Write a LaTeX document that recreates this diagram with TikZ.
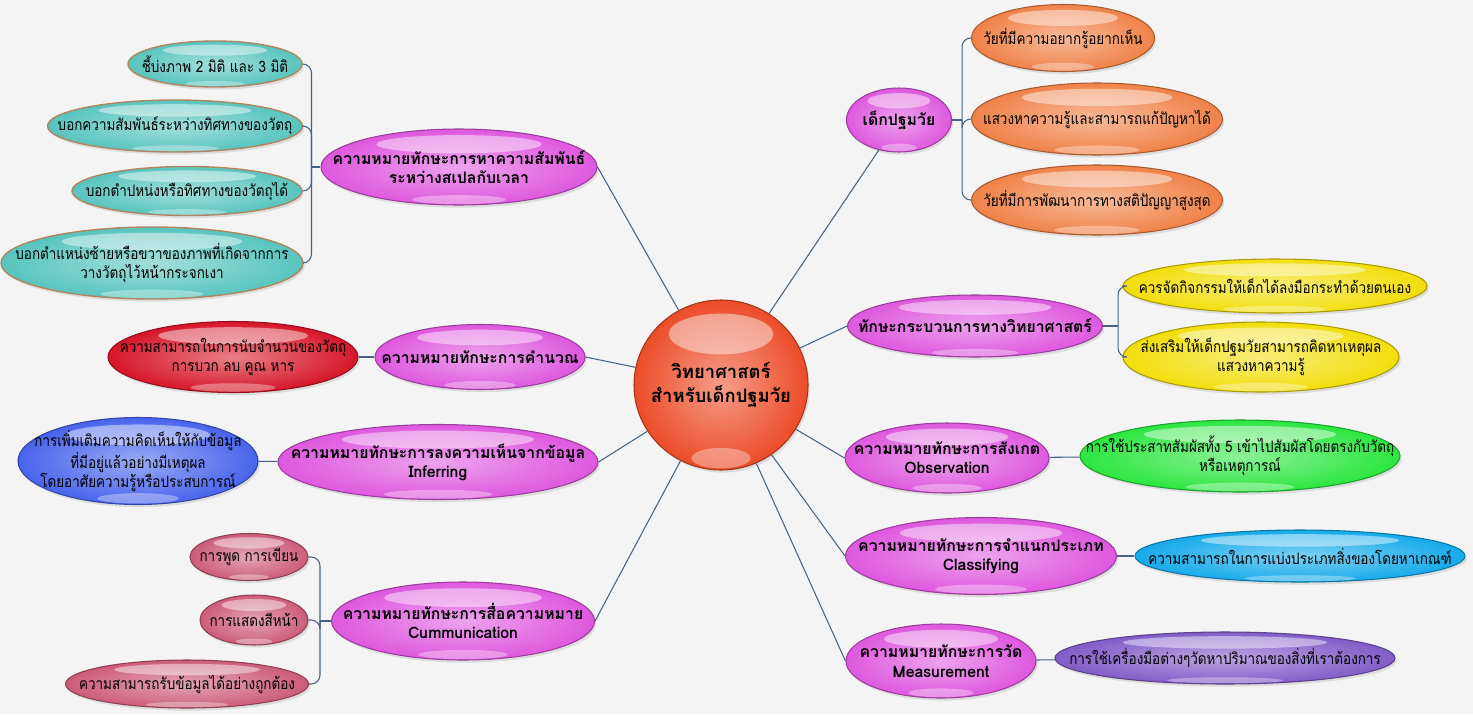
\documentclass[tikz,border=0pt]{standalone}
\usepackage{fontspec}
\setmainfont{Loma}[Script=Thai]
\newfontfamily\leaffont{Loma}[Script=Thai, FakeStretch=0.85]
\usetikzlibrary{shapes.geometric, shadows, calc}

\definecolor{bgcol}{RGB}{244,244,244}
\definecolor{linkcol}{RGB}{70,100,130}
\definecolor{skillpink}{RGB}{222,88,222}
\definecolor{coreorange}{RGB}{236,76,40}
\definecolor{leaforange}{RGB}{240,130,72}
\definecolor{leafteal}{RGB}{88,196,190}
\definecolor{tealrim}{RGB}{176,134,96}
\definecolor{leafred}{RGB}{214,22,40}
\definecolor{leafblue}{RGB}{72,100,236}
\definecolor{leafrose}{RGB}{204,92,122}
\definecolor{leafyellow}{RGB}{242,222,12}
\definecolor{leafgreen}{RGB}{44,230,64}
\definecolor{leafcyan}{RGB}{22,170,234}
\definecolor{leafviolet}{RGB}{130,92,200}

\begin{document}
\begin{tikzpicture}[
    x=0.02cm, y=-0.02cm,
    wh/.style 2 args={minimum width=#1*0.02cm, minimum height=#2*0.02cm},
    gloss/.style={path picture={
        \fill[white, opacity=.45]
          let \p1=(path picture bounding box.south west),
              \p2=(path picture bounding box.north east) in
          ({(\x1+\x2)/2}, {\y2-(\y2-\y1)*.2})
          ellipse [x radius={(\x2-\x1)*.3}, y radius={(\y2-\y1)*.12}];
        \fill[white, opacity=.35]
          let \p1=(path picture bounding box.south west),
              \p2=(path picture bounding box.north east) in
          ({(\x1+\x2)/2}, {\y1+(\y2-\y1)*.07})
          ellipse [x radius={(\x2-\x1)*.17}, y radius={(\y2-\y1)*.06}];
      }},
    bubble/.style={ellipse, inner sep=-4cm, draw=#1!70!black, line width=.6pt,
                   inner color=#1!55!white, outer color=#1,
                   drop shadow={opacity=.2, shadow xshift=1pt, shadow yshift=-1.5pt},
                   gloss, align=center, font=\leaffont\fontsize{9}{11}\selectfont},
    skill/.style={bubble=skillpink, font=\fontsize{9}{11}\selectfont\bfseries},
    teal/.style={bubble=leafteal, draw=tealrim, line width=.8pt},
    link/.style={draw=linkcol, line width=.6pt},
    tree/.style={link, rounded corners=5pt}
  ]
  \path[use as bounding box, fill=bgcol] (0,0) rectangle (1473,714);

  % centre
  \node[bubble=coreorange, wh={174}{170}, font=\fontsize{10.5}{13.5}\selectfont\bfseries]
    (core) at (721,385) {วิทยาศาสตร์\\สำหรับเด็กปฐมวัย};

  % skills, right
  \node[skill, wh={105}{64}]  (early) at (899,120) {เด็กปฐมวัย};
  \node[skill, wh={255}{62}]  (sci)   at (975,326) {ทักษะกระบวนการทางวิทยาศาสตร์};
  \node[skill, wh={204}{70}]  (obs)   at (947,458) {ความหมายทักษะการสังเกต\\Observation};
  \node[skill, wh={271}{77}]  (cls)   at (981,556) {ความหมายทักษะการจำแนกประเภท\\Classifying};
  \node[skill, wh={190}{74}]  (meas)  at (941,661) {ความหมายทักษะการวัด\\Measurement};

  % skills, left
  \node[skill, wh={276}{76}]  (space) at (459,167) {ความหมายทักษะการหาความสัมพันธ์\\ระหว่างสเปลกับเวลา};
  \node[skill, wh={210}{65}]  (calc)  at (480,357) {ความหมายทักษะการคำนวณ};
  \node[skill, wh={320}{75}]  (infer) at (438,462) {ความหมายทักษะการลงความเห็นจากข้อมูล\\Inferring};
  \node[skill, wh={263}{78}]  (comm)  at (463,621) {ความหมายทักษะการสื่อความหมาย\\Cummunication};

  % leaves, right
  \node[bubble=leaforange, wh={183}{67}] (age1) at (1063,38)  {วัยที่มีความอยากรู้อยากเห็น};
  \node[bubble=leaforange, wh={251}{72}] (age2) at (1097,119) {แสวงหาความรู้และสามารถแก้ปัญหาได้};
  \node[bubble=leaforange, wh={251}{70}] (age3) at (1097,200) {วัยที่มีการพัฒนาการทางสติปัญญาสูงสุด};
  \node[bubble=leafyellow, wh={304}{54}] (do1)  at (1275,286) {ควรจัดกิจกรรมให้เด็กได้ลงมือกระทำด้วยตนเอง};
  \node[bubble=leafyellow, wh={276}{70}] (do2)  at (1261,357) {ส่งเสริมให้เด็กปฐมวัยสามารถคิดหาเหตุผล\\แสวงหาความรู้};
  \node[bubble=leafgreen,  wh={320}{72}] (sense) at (1240,456) {การใช้ประสาทสัมผัสทั้ง 5 เข้าไปสัมผัสโดยตรงกับวัตถุ\\หรือเหตุการณ์};
  \node[bubble=leafcyan,   wh={330}{52}] (sort) at (1300,556) {ความสามารถในการแบ่งประเภทสิ่งของโดยหาเกณฑ์};
  \node[bubble=leafviolet, wh={340}{52}] (tool) at (1225,658) {การใช้เครื่องมือต่างๆวัดหาปริมาณของสิ่งที่เราต้องการ};

  % leaves, left
  \node[teal, wh={174}{46}] (dim)   at (215,64)  {ชี้บ่งภาพ 2 มิติ และ 3 มิติ};
  \node[teal, wh={255}{52}] (dir)   at (175,126) {บอกความสัมพันธ์ระหว่างทิศทางของวัตถุ};
  \node[teal, wh={230}{49}] (pos)   at (187,191) {บอกตำปหน่งหรือทิศทางของวัตถุได้};
  \node[teal, wh={302}{72}] (mirr)  at (152,263) {บอกตำแหน่งซ้ายหรือขวาของภาพที่เกิดจากการ\\วางวัตถุไว้หน้ากระจกเงา};
  \node[bubble=leafred,  wh={250}{71}] (count) at (233,357) {ความสามารถในการนับจำนวนของวัตถุ\\การบวก ลบ คูณ หาร};
  \node[bubble=leafblue, wh={240}{87}] (add)   at (138,461) {การเพิ่มเติมความคิดเห็นให้กับข้อมูล\\ที่มีอยู่แล้วอย่างมีเหตุผล\\โดยอาศัยความรู้หรือประสบการณ์};
  \node[bubble=leafrose, wh={118}{47}] (talk)  at (249,557) {การพูด การเขียน};
  \node[bubble=leafrose, wh={108}{50}] (face)  at (254,620) {การแสดงสีหน้า};
  \node[bubble=leafrose, wh={243}{48}] (recv)  at (187,684) {ความสามารถรับข้อมูลได้อย่างถูกต้อง};

  % centre to skills
  \draw[link] (core) -- (early);
  \foreach \s in {sci, obs, cls, meas}
    \draw[link] (core) -- (\s.west);
  \foreach \s in {space, calc, infer, comm}
    \draw[link] (core) -- (\s.east);

  % skills to leaves
  \draw[link] (early.east) -- ++(10,0) coordinate (earlyj);
  \foreach \l in {age1, age2, age3}
    \draw[tree] (earlyj) |- (\l.west);
  \draw[link] (sci.east) -- ++(15,0) coordinate (scij);
  \foreach \l in {do1, do2}
    \draw[tree] (scij) |- (\l.west);
  \draw[link] (space.west) -- ++(-9,0) coordinate (spacej);
  \foreach \l in {dim, dir, pos, mirr}
    \draw[tree] (spacej) |- (\l.east);
  \draw[link] (comm.west) -- ++(-11,0) coordinate (commj);
  \foreach \l in {talk, face, recv}
    \draw[tree] (commj) |- (\l.east);
  \draw[link] (obs) -- (sense);
  \draw[link] (cls) -- (sort);
  \draw[link] (meas) -- (tool);
  \draw[link] (calc) -- (count);
  \draw[link] (infer) -- (add);
\end{tikzpicture}
\end{document}
